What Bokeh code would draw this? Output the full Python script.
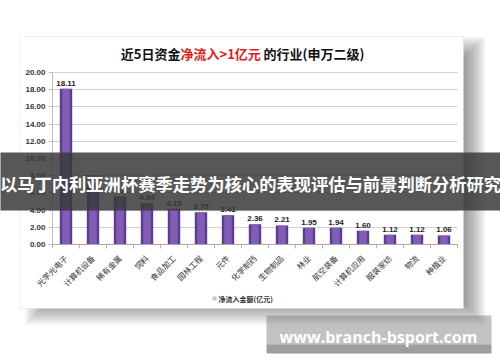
import math
from bokeh.plotting import figure
from bokeh.models import (ColumnDataSource, Range1d, Label, LabelSet, BoxAnnotation,
                          SingleIntervalTicker, FixedTicker, NumeralTickFormatter,
                          LinearAxis, Grid)
from bokeh.core.properties import value
from bokeh.embed import file_html
from bokeh.resources import INLINE

# ---------------- data ----------------
industries = ["光学光电子", "计算机设备", "稀有金属", "饲料", "食品加工", "园林工程", "元件",
              "化学制药", "生物制品", "林业", "航空装备", "计算机应用", "服装家纺", "物流", "种植业"]
net_inflow = [18.11, 7.16, 5.61, 4.84, 4.15, 3.75, 3.41, 2.36, 2.21, 1.95, 1.94, 1.60, 1.12, 1.12, 1.06]
value_labels = ["%.2f" % v for v in net_inflow]
y_min, y_max, y_step = 0, 20, 2
series_name = "净流入金额(亿元)"
title_parts = ["近5日资金", "净流入>1亿元", "的行业(申万二级)"]
banner_text = "以马丁内利亚洲杯赛季走势为核心的表现评估与前景判断分析研究"
badge_text = "www.branch-bsport.com"

# ---------------- layout (pixels inside the 500x362 canvas) ----------------
W, H = 500, 362
AL, AR, AT, AB = 52, 457, 72, 244      # plot area edges
CJK = "Noto Sans CJK SC"

n = len(industries)
idx = list(range(n))
cw = (AR - AL) / n
ppu = (AB - AT) / (y_max - y_min)

x_start = -0.5 - AL / cw
x_end = n - 0.5 + (W - AR) / cw
y_start = y_min - (H - AB) / ppu
y_end = y_max + AT / ppu

p = figure(width=W, height=H, x_range=Range1d(x_start, x_end), y_range=Range1d(y_start, y_end),
           output_backend="svg", toolbar_location=None, title=None,
           x_axis_location=None, y_axis_location=None,
           min_border=0, min_border_left=0, min_border_right=0, min_border_top=0,
           min_border_bottom=0, background_fill_color="white", border_fill_color="white",
           outline_line_color=None)
p.grid.visible = False


def X(fx):
    return -0.5 + (fx - AL) / cw


def Y(fy):
    return y_min + (AB - fy) / ppu


def box(l, r, t, b, **kw):
    kw.setdefault("line_color", None)
    ba = BoxAnnotation(left=X(l), right=X(r), top=Y(t), bottom=Y(b), **kw)
    p.add_layout(ba)
    return ba


def label(fx, fy, text, **kw):
    lb = Label(x=X(fx), y=Y(fy), text=text, **kw)
    p.add_layout(lb)
    return lb


# panel shadow + panel
PL, PR, PT, PB = 19, 463, 36, 308
dx, dy = 12, 6
for s in [-10, -7.5, -5, -2.5, 0, 2.5, 5, 7.5, 10]:
    box(PL + dx - s + 4, PR + dx + s, PT + dy - s + 4, PB + dy + s,
        fill_color="black", fill_alpha=0.05, level="image")
box(PL, PR, PT, PB, fill_color="white", fill_alpha=1.0, line_color="#d4d4d4",
    line_width=1, level="image")

# ---------------- axes & grid ----------------
yticker = SingleIntervalTicker(interval=y_step, num_minor_ticks=0)
yaxis = LinearAxis(ticker=yticker, formatter=NumeralTickFormatter(format="0.00"),
                   fixed_location=-0.5, bounds=(y_min, y_max),
                   axis_line_color="#bcbcbc", major_tick_line_color="#bcbcbc",
                   major_tick_out=4, major_tick_in=0, minor_tick_line_color=None,
                   major_label_text_font="Liberation Sans", major_label_text_font_style="bold",
                   major_label_text_font_size="8px", major_label_text_color="#333333",
                   major_label_standoff=3)
p.add_layout(yaxis, "left")

xticker = FixedTicker(ticks=idx, minor_ticks=[i - 0.5 for i in range(n + 1)])
xaxis = LinearAxis(ticker=xticker, fixed_location=y_min, bounds=(-0.5, n - 0.5),
                   major_label_overrides={i: name for i, name in enumerate(industries)},
                   axis_line_color="#a8a8a8", major_tick_line_color=None,
                   minor_tick_line_color="#b0b0b0", minor_tick_out=4, minor_tick_in=0,
                   major_label_orientation=math.pi / 4,
                   major_label_text_font=CJK, major_label_text_font_size="8px",
                   major_label_text_color="#333333", major_label_standoff=6)
p.add_layout(xaxis, "below")

ygrid = Grid(dimension=1, ticker=yticker, bounds=(y_min + 0.5, y_max + 0.001),
             cross_bounds=(-0.5, n - 0.5), grid_line_color="#d2d2d2", grid_line_width=1)
p.add_layout(ygrid)

# ---------------- bars ----------------
src = ColumnDataSource(dict(i=idx, cat=industries, val=net_inflow, lbl=value_labels))
p.vbar(x="i", top="val", bottom=y_min, width=0.46, source=src,
       fill_color="#5f3c91", line_color=None)
p.vbar(x="i", top="val", bottom=y_min, width=0.28, source=src,
       fill_color="#8660b9", fill_alpha=0.9, line_color=None)

p.add_layout(LabelSet(x="i", y="val", text="lbl", source=src, y_offset=3,
                      text_align="center", text_baseline="bottom",
                      text_font=value("Liberation Sans"), text_font_style="bold",
                      text_font_size="8px", text_color="#222222"))

# title (three coloured parts)
tstyle = dict(text_baseline="middle", text_font=CJK, text_font_style="bold", text_font_size="13px")
label(180, 52.5, title_parts[0], text_align="right", text_color="#111111", **tstyle)
label(180, 52.5, title_parts[1], text_align="left", text_color="#e0201c", **tstyle)
label(263, 52.5, title_parts[2], text_align="left", text_color="#111111", **tstyle)

# legend
box(212, 216, 296, 300, fill_color="#7d55b0")
label(218, 298, series_name, text_align="left", text_baseline="middle", text_font=CJK,
      text_font_style="bold", text_font_size="7px", text_color="#333333")

# dark banner
box(-2, W + 2, 152, 210, fill_color="#3a3a3a", fill_alpha=0.85)
label(250, 183, banner_text, text_align="center", text_baseline="middle", text_font=CJK,
      text_font_style="bold", text_font_size="17.3px", text_color="white")

# badge
box(266, 491, 315, 344, fill_color="#666666")
box(266, 491, 344, 353, fill_color="#0d0d0d")
label(378, 336, badge_text, text_align="center", text_baseline="middle", text_font="Open Sans",
      text_font_style="bold", text_font_size="16px", text_color="white")

open("out.html", "w").write(file_html(p, INLINE))
